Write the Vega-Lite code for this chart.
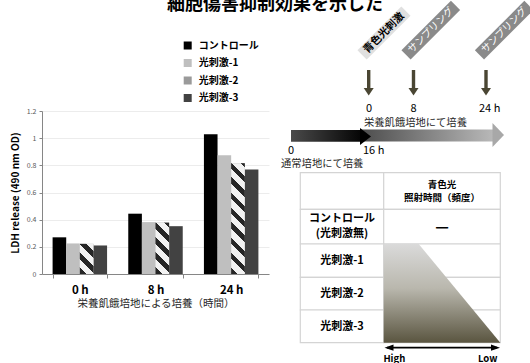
{
  "$schema": "https://vega.github.io/schema/vega-lite/v6.json",
  "background": "white",
  "padding": {"left": 10, "top": -4, "right": 0, "bottom": 0},
  "bounds": "flush",
  "spacing": 2,
  "config": {"view": {"stroke": null}, "font": "Noto Sans CJK JP"},
  "datasets": {
    "ldh": [
      {"time": "0 h", "series": "コントロール", "ldh": 0.27},
      {"time": "0 h", "series": "光刺激-1", "ldh": 0.225},
      {"time": "0 h", "series": "光刺激-2", "ldh": 0.222},
      {"time": "0 h", "series": "光刺激-3", "ldh": 0.21},
      {"time": "8 h", "series": "コントロール", "ldh": 0.444},
      {"time": "8 h", "series": "光刺激-1", "ldh": 0.382},
      {"time": "8 h", "series": "光刺激-2", "ldh": 0.378},
      {"time": "8 h", "series": "光刺激-3", "ldh": 0.352},
      {"time": "24 h", "series": "コントロール", "ldh": 1.028},
      {"time": "24 h", "series": "光刺激-1", "ldh": 0.874},
      {"time": "24 h", "series": "光刺激-2", "ldh": 0.815},
      {"time": "24 h", "series": "光刺激-3", "ldh": 0.77}
    ],
    "title": [{"x": 274, "y": 10, "text": "細胞傷害抑制効果を示した"}],
    "events": [
      {"type": "stimulus", "x": 383, "y": 33, "text": "青色光刺激"},
      {"type": "sampling", "x": 429.8, "y": 30.2, "text": "サンプリング"},
      {"type": "sampling", "x": 503.2, "y": 30.2, "text": "サンプリング"}
    ],
    "eventArrows": [
      {"x": 367.7, "y": 70, "y2": 88.5},
      {"x": 412.5, "y": 70, "y2": 88.5},
      {"x": 485, "y": 70, "y2": 88.5}
    ],
    "eventArrowHeads": [
      {"x": 367.7, "y": 91.8},
      {"x": 412.5, "y": 91.8},
      {"x": 485, "y": 91.8}
    ],
    "timeLabels": [
      {"x": 365, "y": 111.5, "text": "0"},
      {"x": 409.5, "y": 111.5, "text": "8"},
      {"x": 478, "y": 111.5, "text": "24 h"},
      {"x": 287, "y": 154, "text": "0"},
      {"x": 362, "y": 154, "text": "16 h"}
    ],
    "phaseLabels": [
      {"x": 363, "y": 125.5, "text": "栄養飢餓培地にて培養"},
      {"x": 280, "y": 167, "text": "通常培地にて培養"}
    ],
    "arrowBodies": [
      {"phase": "starvation", "x": 360, "x2": 492, "y": 129.5, "y2": 141.5},
      {"phase": "normal", "x": 290, "x2": 360, "y": 130, "y2": 141.7}
    ],
    "arrowHeads": [
      {"phase": "starvation", "x": 491.5, "y": 123, "y2": 147},
      {"phase": "starvation", "x": 503, "y": 135, "y2": 135},
      {"phase": "normal", "x": 359, "y": 128, "y2": 145},
      {"phase": "normal", "x": 370, "y": 136.5, "y2": 136.5}
    ],
    "cells": [
      {"x": 299.3, "x2": 382.7, "y": 172.7, "y2": 209.3},
      {"x": 382.7, "x2": 499.3, "y": 172.7, "y2": 209.3},
      {"x": 299.3, "x2": 382.7, "y": 209.3, "y2": 244},
      {"x": 382.7, "x2": 499.3, "y": 209.3, "y2": 244},
      {"x": 299.3, "x2": 382.7, "y": 244, "y2": 277.3},
      {"x": 382.7, "x2": 499.3, "y": 244, "y2": 277.3},
      {"x": 299.3, "x2": 382.7, "y": 277.3, "y2": 310},
      {"x": 382.7, "x2": 499.3, "y": 277.3, "y2": 310},
      {"x": 299.3, "x2": 382.7, "y": 310, "y2": 342.7},
      {"x": 382.7, "x2": 499.3, "y": 310, "y2": 342.7}
    ],
    "intensity": [
      {"x": 382.7, "y": 244, "y2": 342.7},
      {"x": 417.7, "y": 244, "y2": 342.7},
      {"x": 499.3, "y": 342.7, "y2": 342.7}
    ],
    "cellText": [
      {"part": "header", "x": 441, "y": 185, "text": "青色光"},
      {"part": "header", "x": 441, "y": 197.5, "text": "照射時間（頻度）"},
      {"part": "row", "x": 341, "y": 219, "text": "コントロール"},
      {"part": "row", "x": 341, "y": 233.5, "text": "(光刺激無)"},
      {"part": "row", "x": 341, "y": 261, "text": "光刺激-1"},
      {"part": "row", "x": 341, "y": 294, "text": "光刺激-2"},
      {"part": "row", "x": 341, "y": 327, "text": "光刺激-3"},
      {"part": "dash", "x": 441, "y": 226.5, "text": "—"}
    ],
    "scaleAxis": [{"x": 386, "x2": 496, "y": 347.7}],
    "scaleHeads": [
      {"end": "High", "x": 388, "y": 347.7},
      {"end": "Low", "x": 494.5, "y": 347.7}
    ],
    "scaleLabels": [
      {"x": 393.3, "y": 358.5, "text": "High"},
      {"x": 486.7, "y": 358.5, "text": "Low"}
    ]
  },
  "hconcat": [
    {
      "width": 227,
      "height": 274,
      "data": {"name": "ldh"},
      "encoding": {
        "x": {
          "field": "time", "type": "nominal", "sort": ["0 h", "8 h", "24 h"],
          "scale": {"paddingInner": 0.28, "paddingOuter": 0.14},
          "axis": {
            "title": "栄養飢餓培地による培養（時間）", "labelAngle": 0, "labelFontSize": 11.5,
            "labelFontWeight": "bold", "labelColor": "#000000", "labelPadding": 6,
            "labelAlign": "center", "labelFlush": false,
            "domainColor": "#868686", "tickColor": "#868686", "tickSize": 4, "tickBand": "extent",
            "titleFontSize": 10.5, "titleFontWeight": "normal", "titleColor": "#262626", "titlePadding": 3
          }
        },
        "xOffset": {
          "field": "series", "type": "nominal",
          "sort": ["コントロール", "光刺激-1", "光刺激-2", "光刺激-3"],
          "scale": {"domain": ["コントロール", "光刺激-1", "光刺激-2", "光刺激-3"], "paddingInner": 0, "paddingOuter": 0}
        },
        "y": {
          "field": "ldh", "type": "quantitative",
          "scale": {"domain": [0, 1.2], "range": [274, 111], "nice": false},
          "axis": {
            "title": "LDH release (490 nm OD)", "values": [0, 0.2, 0.4, 0.6, 0.8, 1, 1.2], "format": "~g",
            "labelFontSize": 7, "labelColor": "#595959", "labelPadding": 3, "tickSize": 3,
            "tickColor": "#868686", "domainColor": "#868686", "gridColor": "#ececec",
            "titleFontSize": 10, "titleFontWeight": "bold", "titleColor": "#000000", "titlePadding": 6
          }
        }
      },
      "layer": [
        {
          "mark": {"type": "bar"},
          "encoding": {
            "color": {
              "field": "series", "type": "nominal",
              "sort": ["コントロール", "光刺激-1", "光刺激-2", "光刺激-3"],
              "scale": {
                "domain": ["コントロール", "光刺激-1", "光刺激-2", "光刺激-3"],
                "range": ["#000000", "#bfbfbf", "#9a9a9a", "#424242"]
              },
              "legend": {
                "title": null, "orient": "none", "legendX": 140.7, "legendY": 40.5, "direction": "vertical",
                "symbolType": "square", "symbolSize": 64, "symbolStrokeWidth": 0,
                "labelFontSize": 10, "labelFontWeight": "bold", "labelColor": "#000000",
                "labelOffset": 6, "rowPadding": 7.5, "padding": 0
              }
            }
          }
        },
        {
          "transform": [{"filter": "datum.series === '光刺激-2' && datum.time === '0 h'"}],
          "mark": {"type": "bar", "fill": {"gradient": "linear", "x1": 0, "y1": 1, "x2": 0.543, "y2": -0.206, "stops": [
            {"offset": 0, "color": "#262626"}, {"offset": 0.154, "color": "#262626"}, {"offset": 0.154, "color": "#f2f2f2"}, {"offset": 0.342, "color": "#f2f2f2"},
            {"offset": 0.342, "color": "#262626"}, {"offset": 0.497, "color": "#262626"}, {"offset": 0.497, "color": "#f2f2f2"}, {"offset": 0.685, "color": "#f2f2f2"},
            {"offset": 0.685, "color": "#262626"}, {"offset": 0.839, "color": "#262626"}, {"offset": 0.839, "color": "#f2f2f2"}, {"offset": 1, "color": "#f2f2f2"}]}}
        },
        {
          "transform": [{"filter": "datum.series === '光刺激-2' && datum.time === '8 h'"}],
          "mark": {"type": "bar", "fill": {"gradient": "linear", "x1": 0, "y1": 1, "x2": 0.3133, "y2": -0.182, "stops": [
            {"offset": 0, "color": "#262626"}, {"offset": 0.104, "color": "#262626"}, {"offset": 0.104, "color": "#f2f2f2"}, {"offset": 0.231, "color": "#f2f2f2"},
            {"offset": 0.231, "color": "#262626"}, {"offset": 0.335, "color": "#262626"}, {"offset": 0.335, "color": "#f2f2f2"}, {"offset": 0.462, "color": "#f2f2f2"},
            {"offset": 0.462, "color": "#262626"}, {"offset": 0.566, "color": "#262626"}, {"offset": 0.566, "color": "#f2f2f2"}, {"offset": 0.693, "color": "#f2f2f2"},
            {"offset": 0.693, "color": "#262626"}, {"offset": 0.797, "color": "#262626"}, {"offset": 0.797, "color": "#f2f2f2"}, {"offset": 0.924, "color": "#f2f2f2"},
            {"offset": 0.924, "color": "#262626"}, {"offset": 1, "color": "#262626"}]}}
        },
        {
          "transform": [{"filter": "datum.series === '光刺激-2' && datum.time === '24 h'"}],
          "mark": {"type": "bar", "fill": {"gradient": "linear", "x1": 0, "y1": 1, "x2": 0.1359, "y2": -0.1062, "stops": [
            {"offset": 0, "color": "#262626"}, {"offset": 0.054, "color": "#262626"}, {"offset": 0.054, "color": "#f2f2f2"}, {"offset": 0.121, "color": "#f2f2f2"},
            {"offset": 0.121, "color": "#262626"}, {"offset": 0.175, "color": "#262626"}, {"offset": 0.175, "color": "#f2f2f2"}, {"offset": 0.241, "color": "#f2f2f2"},
            {"offset": 0.241, "color": "#262626"}, {"offset": 0.296, "color": "#262626"}, {"offset": 0.296, "color": "#f2f2f2"}, {"offset": 0.362, "color": "#f2f2f2"},
            {"offset": 0.362, "color": "#262626"}, {"offset": 0.417, "color": "#262626"}, {"offset": 0.417, "color": "#f2f2f2"}, {"offset": 0.483, "color": "#f2f2f2"},
            {"offset": 0.483, "color": "#262626"}, {"offset": 0.537, "color": "#262626"}, {"offset": 0.537, "color": "#f2f2f2"}, {"offset": 0.603, "color": "#f2f2f2"},
            {"offset": 0.603, "color": "#262626"}, {"offset": 0.658, "color": "#262626"}, {"offset": 0.658, "color": "#f2f2f2"}, {"offset": 0.724, "color": "#f2f2f2"},
            {"offset": 0.724, "color": "#262626"}, {"offset": 0.779, "color": "#262626"}, {"offset": 0.779, "color": "#f2f2f2"}, {"offset": 0.845, "color": "#f2f2f2"},
            {"offset": 0.845, "color": "#262626"}, {"offset": 0.899, "color": "#262626"}, {"offset": 0.899, "color": "#f2f2f2"}, {"offset": 0.965, "color": "#f2f2f2"},
            {"offset": 0.965, "color": "#262626"}, {"offset": 1, "color": "#262626"}]}}
        }
      ]
    },
    {
      "width": 260,
      "height": 363,
      "encoding": {
        "x": {"field": "x", "type": "quantitative", "scale": {"domain": [270, 530], "nice": false, "zero": false}, "axis": null},
        "y": {"field": "y", "type": "quantitative", "scale": {"domain": [0, 363], "nice": false, "zero": false, "reverse": true}, "axis": null}
      },
      "layer": [
        {
          "data": {"name": "title"},
          "mark": {"type": "text", "fontSize": 18, "fontWeight": "bold", "align": "center", "baseline": "alphabetic", "color": "#000000"},
          "encoding": {"text": {"field": "text"}}
        },
        {
          "data": {"name": "events"},
          "transform": [{"filter": "datum.type === 'stimulus'"}],
          "mark": {"type": "point", "shape": "M 0.884 -0.577 L 0.577 -0.884 L -0.884 0.577 L -0.577 0.884 Z", "size": 3600, "filled": true, "color": "#e0e0e0", "opacity": 1, "strokeWidth": 0, "clip": true}
        },
        {
          "data": {"name": "events"},
          "transform": [{"filter": "datum.type === 'sampling'"}],
          "mark": {"type": "point", "shape": "M 0.978 -0.672 L 0.672 -0.978 L -0.978 0.672 L -0.672 0.978 Z", "size": 3600, "filled": true, "color": "#8a8a8a", "opacity": 1, "strokeWidth": 0, "clip": true}
        },
        {
          "data": {"name": "events"},
          "transform": [{"filter": "datum.type === 'stimulus'"}],
          "mark": {"type": "text", "angle": -45, "fontSize": 10.5, "fontWeight": "bold", "color": "#000000", "align": "center", "baseline": "middle", "clip": true},
          "encoding": {"text": {"field": "text"}}
        },
        {
          "data": {"name": "events"},
          "transform": [{"filter": "datum.type === 'sampling'"}],
          "mark": {"type": "text", "angle": -45, "fontSize": 10, "color": "#ffffff", "align": "center", "baseline": "middle", "clip": true},
          "encoding": {"text": {"field": "text"}}
        },
        {
          "data": {"name": "eventArrows"},
          "mark": {"type": "rule", "strokeWidth": 3.4, "color": "#4a4633"},
          "encoding": {"y2": {"field": "y2"}}
        },
        {
          "data": {"name": "eventArrowHeads"},
          "mark": {"type": "point", "shape": "M -1 -0.75 L 1 -0.75 L 0 0.75 Z", "size": 100, "filled": true, "color": "#4a4633", "opacity": 1, "strokeWidth": 0}
        },
        {
          "data": {"name": "timeLabels"},
          "mark": {"type": "text", "fontSize": 11, "align": "left", "baseline": "alphabetic", "color": "#000000"},
          "encoding": {"text": {"field": "text"}}
        },
        {
          "data": {"name": "phaseLabels"},
          "mark": {"type": "text", "fontSize": 10.3, "align": "left", "baseline": "alphabetic", "color": "#262626"},
          "encoding": {"text": {"field": "text"}}
        },
        {
          "data": {"name": "arrowBodies"},
          "transform": [{"filter": "datum.phase === 'starvation'"}],
          "mark": {"type": "rect", "fill": {"gradient": "linear", "x1": 0, "y1": 0, "x2": 1, "y2": 0, "stops": [{"offset": 0, "color": "#4d4d4d"}, {"offset": 1, "color": "#b8b8b8"}]}},
          "encoding": {"x2": {"field": "x2"}, "y2": {"field": "y2"}}
        },
        {
          "data": {"name": "arrowHeads"},
          "transform": [{"filter": "datum.phase === 'starvation'"}],
          "mark": {"type": "area", "orient": "vertical", "color": "#a8a8a8"},
          "encoding": {"y2": {"field": "y2"}}
        },
        {
          "data": {"name": "arrowBodies"},
          "transform": [{"filter": "datum.phase === 'normal'"}],
          "mark": {"type": "rect", "fill": {"gradient": "linear", "x1": 0, "y1": 0, "x2": 1, "y2": 0, "stops": [{"offset": 0, "color": "#4a4a4a"}, {"offset": 1, "color": "#050505"}]}},
          "encoding": {"x2": {"field": "x2"}, "y2": {"field": "y2"}}
        },
        {
          "data": {"name": "arrowHeads"},
          "transform": [{"filter": "datum.phase === 'normal'"}],
          "mark": {"type": "area", "orient": "vertical", "color": "#000000"},
          "encoding": {"y2": {"field": "y2"}}
        },
        {
          "data": {"name": "cells"},
          "mark": {"type": "rect", "fill": "#ffffff", "stroke": "#d4d4d4", "strokeWidth": 1.2},
          "encoding": {"x2": {"field": "x2"}, "y2": {"field": "y2"}}
        },
        {
          "data": {"name": "intensity"},
          "mark": {"type": "area", "orient": "vertical", "fill": {"gradient": "linear", "x1": 0, "y1": 0, "x2": 0, "y2": 1, "stops": [{"offset": 0, "color": "#dadada"}, {"offset": 0.45, "color": "#b9b7ad"}, {"offset": 1, "color": "#5a5540"}]}},
          "encoding": {"y2": {"field": "y2"}}
        },
        {
          "data": {"name": "cellText"},
          "transform": [{"filter": "datum.part === 'header'"}],
          "mark": {"type": "text", "fontSize": 9.5, "fontWeight": "bold", "align": "center", "baseline": "middle", "color": "#000000"},
          "encoding": {"text": {"field": "text"}}
        },
        {
          "data": {"name": "cellText"},
          "transform": [{"filter": "datum.part === 'row'"}],
          "mark": {"type": "text", "fontSize": 11, "fontWeight": "bold", "align": "center", "baseline": "middle", "color": "#000000"},
          "encoding": {"text": {"field": "text"}}
        },
        {
          "data": {"name": "cellText"},
          "transform": [{"filter": "datum.part === 'dash'"}],
          "mark": {"type": "text", "fontSize": 15, "fontWeight": "bold", "align": "center", "baseline": "middle", "color": "#000000"},
          "encoding": {"text": {"field": "text"}}
        },
        {
          "data": {"name": "scaleAxis"},
          "mark": {"type": "rule", "strokeWidth": 1.8, "color": "#000000"},
          "encoding": {"x2": {"field": "x2"}}
        },
        {
          "data": {"name": "scaleHeads"},
          "transform": [{"filter": "datum.end === 'High'"}],
          "mark": {"type": "point", "shape": "M -1 0 L 1 -0.7 L 1 0.7 Z", "size": 81, "filled": true, "color": "#000000", "opacity": 1, "strokeWidth": 0}
        },
        {
          "data": {"name": "scaleHeads"},
          "transform": [{"filter": "datum.end === 'Low'"}],
          "mark": {"type": "point", "shape": "M 1 0 L -1 -0.7 L -1 0.7 Z", "size": 81, "filled": true, "color": "#000000", "opacity": 1, "strokeWidth": 0}
        },
        {
          "data": {"name": "scaleLabels"},
          "mark": {"type": "text", "fontSize": 9.5, "fontWeight": "bold", "align": "center", "baseline": "middle", "color": "#000000"},
          "encoding": {"text": {"field": "text"}}
        }
      ]
    }
  ]
}
